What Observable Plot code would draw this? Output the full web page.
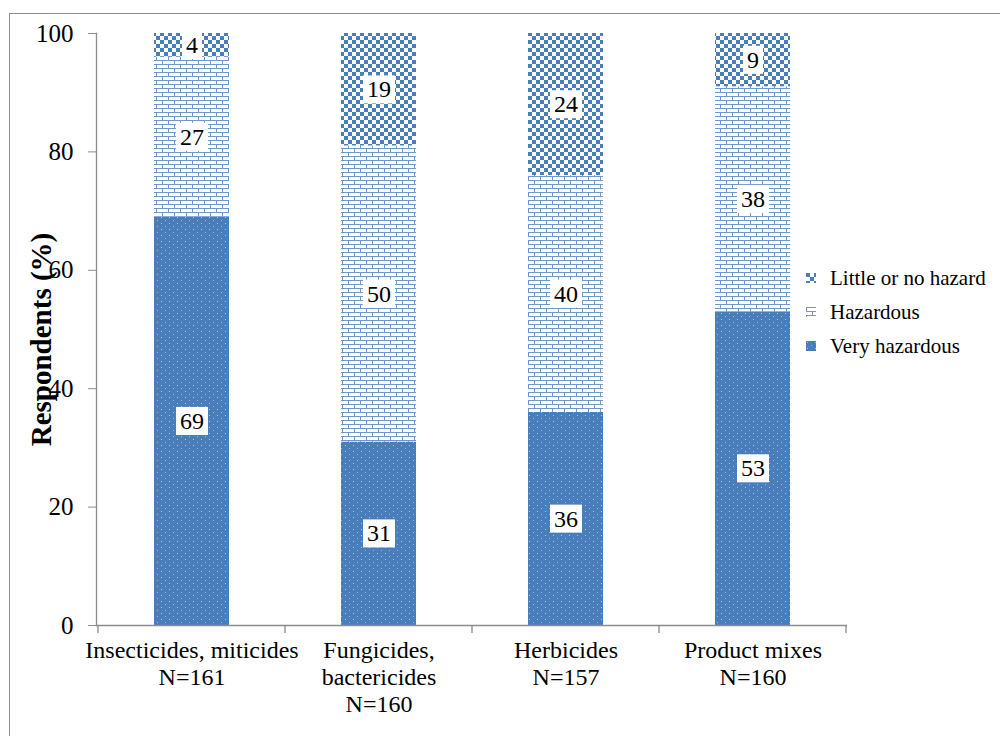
<!DOCTYPE html>
<html>
<head>
<meta charset="utf-8">
<script src="https://cdn.jsdelivr.net/npm/d3@7"></script>
<script src="https://cdn.jsdelivr.net/npm/@observablehq/plot@0.6"></script>
<style>
  html, body { margin: 0; padding: 0; background: #fff; overflow: hidden; }
  #wrap { position: relative; width: 1000px; height: 736px; overflow: hidden; }
  #border { position: absolute; left: 9px; top: 13px; width: 1200px; height: 900px; border: 1px solid #8c8c8c; box-sizing: border-box; }
  #chart { position: absolute; left: 0; top: 0; }
  #legend { position: absolute; left: 806px; top: 261px; font-family: "Liberation Serif", "DejaVu Serif", "Noto Serif", "Times New Roman", Times, serif; font-size: 21px; color: #000; }
  .item { display: flex; align-items: center; height: 34px; }
  .item svg { margin-right: 14px; }
  svg text { font-family: "Liberation Serif", "DejaVu Serif", "Noto Serif", "Times New Roman", Times, serif; }
</style>
</head>
<body>
<div id="wrap">
  <div id="border"></div>
  <div id="chart"></div>
  <div id="legend"></div>
</div>
<script>
const categories = ["Insecticides, miticides", "Fungicides,\nbactericides", "Herbicides", "Product mixes"];
const sampleSizes = [161, 160, 157, 160];
const levels = ["Very hazardous", "Hazardous", "Little or no hazard"];
const veryHazardous = [69, 31, 36, 53];
const hazardous = [27, 50, 40, 38];
const littleOrNo = [4, 19, 24, 9];
const yTicks = [0, 20, 40, 60, 80, 100];
const legendOrder = ["Little or no hazard", "Hazardous", "Very hazardous"];

const seriesValues = [veryHazardous, hazardous, littleOrNo];
const rows = [];
categories.forEach((c, i) => {
  levels.forEach((lv, j) => rows.push({category: c, level: lv, value: seriesValues[j][i]}));
});
const nByCat = new Map(categories.map((c, i) => [c, sampleSizes[i]]));

const patternIds = {"Very hazardous": "pVery", "Hazardous": "pHaz", "Little or no hazard": "pLittle"};
const serif = "'Liberation Serif', 'DejaVu Serif', 'Noto Serif', 'Times New Roman', Times, serif";

const plot = Plot.plot({
  width: 1000,
  height: 736,
  marginLeft: 96,
  marginRight: 153,
  marginTop: 33,
  marginBottom: 111,
  style: {fontFamily: serif, background: "transparent"},
  x: {domain: categories, paddingInner: 0.6, paddingOuter: 0.3, label: null},
  y: {domain: [0, 100], label: null},
  color: {type: "ordinal", domain: levels, range: levels.map(l => `url(#${patternIds[l]})`)},
  marks: [
    Plot.barY(rows, {x: "category", y: "value", fill: "level", z: "level", order: levels}),
    Plot.ruleY([0], {stroke: "#8c8c8c", strokeWidth: 1.3}),
    Plot.frame({anchor: "left", stroke: "#8c8c8c", strokeWidth: 1.3}),
    Plot.axisY({ticks: yTicks, tickSize: 8, tickPadding: 15, fontSize: 25, stroke: "#8c8c8c", color: "#000", label: null}),
    Plot.axisX({tickSize: 0, tickPadding: 13, fontSize: 24, lineHeight: 1.125, color: "#000",
      tickFormat: d => `${d}\nN=${nByCat.get(d)}`}),
    Plot.text(["Respondents (%)"], {frameAnchor: "left", textAnchor: "middle", rotate: -90, dx: -55, dy: 10, fontSize: 29, fontWeight: "bold", fill: "#000"}),
    Plot.text(rows, Plot.stackY({x: "category", y: "value", z: "level", text: d => String(d.value), order: levels, fontSize: 24, fill: "#000"}))
  ]
});

// pattern definitions
const svg = d3.select(plot);
const defs = svg.insert("defs", ":first-child");
const blue = "#4a7ebb";
// checkerboard
const pc = defs.append("pattern").attr("id", "pLittle").attr("patternUnits", "userSpaceOnUse").attr("width", 8).attr("height", 8);
pc.append("rect").attr("width", 8).attr("height", 8).attr("fill", "#fff");
pc.append("rect").attr("width", 4).attr("height", 4).attr("fill", blue);
pc.append("rect").attr("x", 4).attr("y", 4).attr("width", 4).attr("height", 4).attr("fill", blue);
// brick
const pb = defs.append("pattern").attr("id", "pHaz").attr("patternUnits", "userSpaceOnUse").attr("width", 12).attr("height", 8);
pb.append("rect").attr("width", 12).attr("height", 8).attr("fill", "#fff");
pb.append("path").attr("d", "M0,0.5H12M0,4.5H12M0.5,0V4M6.5,4V8").attr("stroke", "#6f97c9").attr("stroke-width", 1).attr("fill", "none");
// dotted solid
const pd = defs.append("pattern").attr("id", "pVery").attr("patternUnits", "userSpaceOnUse").attr("width", 8).attr("height", 6);
pd.append("rect").attr("width", 8).attr("height", 6).attr("fill", blue);
pd.append("rect").attr("x", 1).attr("y", 1).attr("width", 1).attr("height", 1).attr("fill", "#a9c7ec");
pd.append("rect").attr("x", 5).attr("y", 4).attr("width", 1).attr("height", 1).attr("fill", "#8fb4e2");

document.getElementById("chart").appendChild(plot);

// white boxes behind value labels
svg.selectAll("g[aria-label='text'] text")
  .filter(function() { return /^\d+$/.test(this.textContent.trim()); })
  .each(function() {
    const bb = this.getBBox();
    const padX = 4, padY = 1;
    d3.select(this.parentNode).insert("rect", () => this)
      .attr("x", bb.x - padX).attr("y", bb.y - padY)
      .attr("width", bb.width + 2 * padX).attr("height", bb.height + 2 * padY)
      .attr("fill", "#fff")
      .attr("transform", this.getAttribute("transform"));
  });

// category separator ticks on x axis (at band edges)
const xs = plot.scale("x");
const step = xs.step;
const edges = categories.map(c => xs.apply(c) - (step - xs.bandwidth) / 2 ).concat([xs.apply(categories[categories.length-1]) + xs.bandwidth + (step - xs.bandwidth) / 2]);
const y0 = plot.scale("y").apply(0);
svg.append("g").selectAll("line").data(edges).join("line")
  .attr("x1", d => d).attr("x2", d => d).attr("y1", y0).attr("y2", y0 + 8)
  .attr("stroke", "#8c8c8c").attr("stroke-width", 1.3);

// legend
const legend = d3.select("#legend");
legendOrder.forEach(lv => {
  const it = legend.append("div").attr("class", "item");
  const s = it.append("svg").attr("width", 10).attr("height", 10);
  s.append("rect").attr("width", 10).attr("height", 10).attr("fill", `url(#${patternIds[lv]})`);
  it.append("span").text(lv);
});
</script>
</body>
</html>
